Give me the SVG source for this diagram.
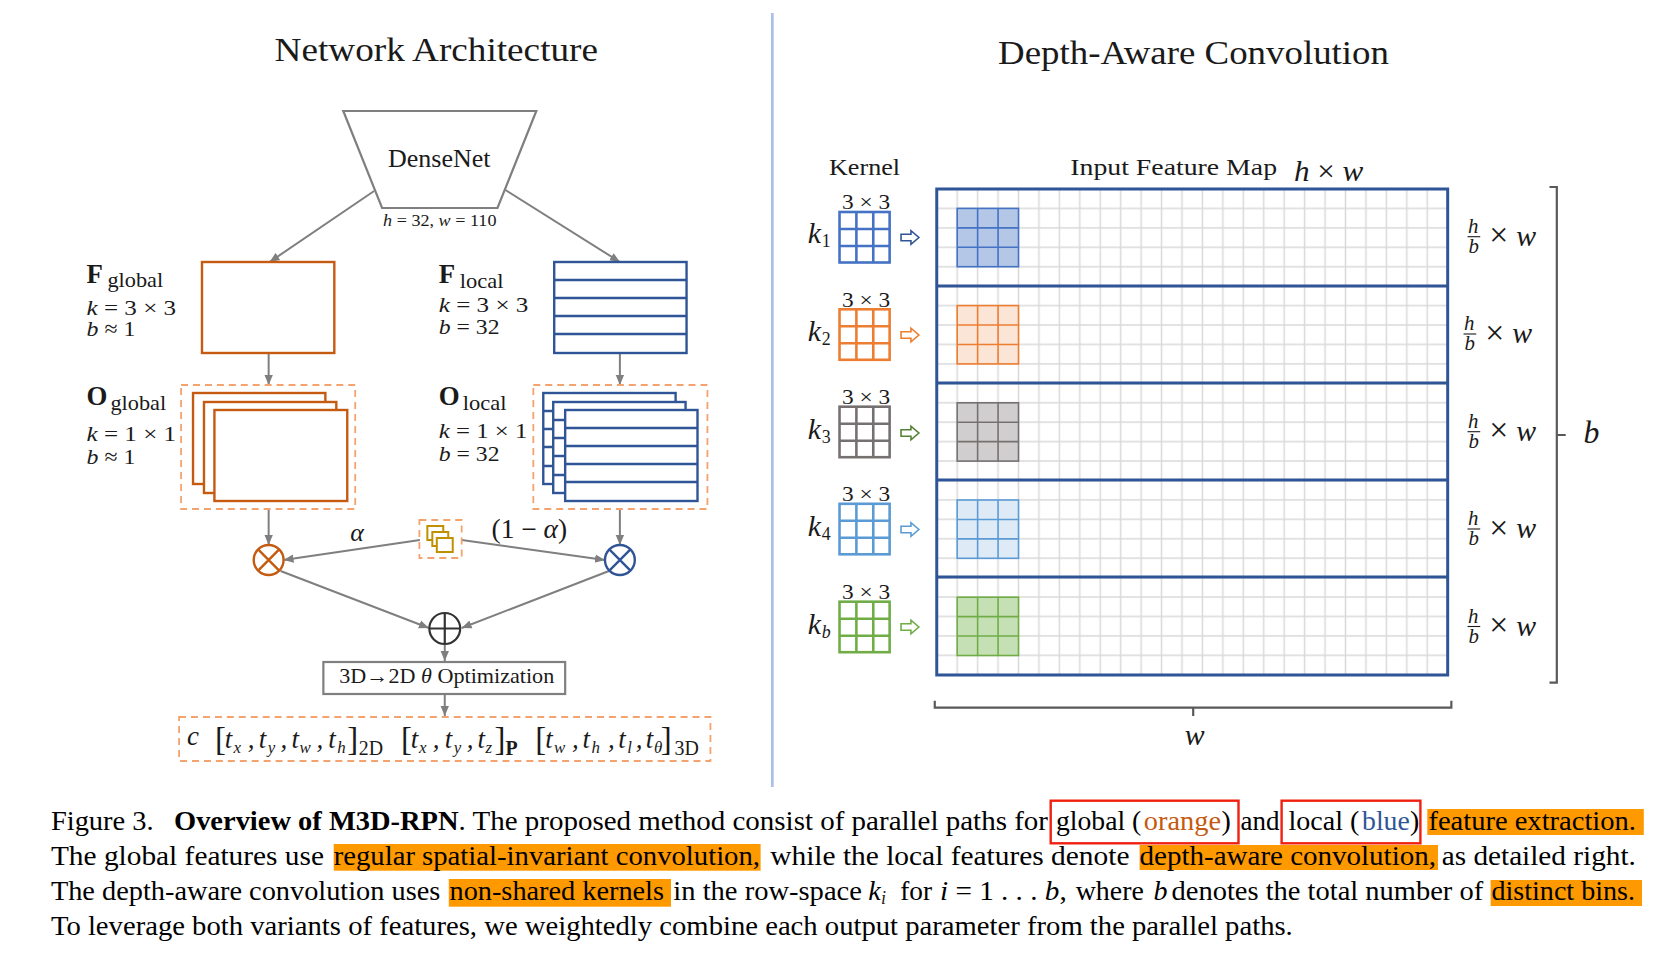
<svg xmlns="http://www.w3.org/2000/svg" width="1664" height="954" viewBox="0 0 1664 954">
<style>
text{font-family:"Liberation Serif","Times New Roman",serif;fill:#1a1a1a}
.i{font-style:italic}
.b{font-weight:bold}
.title{font-size:34px}
.lab{font-size:22px}
.sub{font-size:21px}
.cap{font-size:28px;fill:#000}
.arrow{fill:none;stroke:#7f7f7f;stroke-width:2;marker-end:url(#head)}
.gray{fill:#fff;stroke:#7f7f7f;stroke-width:2.2}
.org{fill:#fff;stroke:#c55a11;stroke-width:2.4}
.blu{fill:#fff;stroke:#2f5597;stroke-width:2.4}
.dash{fill:none;stroke:#f4a26e;stroke-width:1.8;stroke-dasharray:7 5}
.gold{fill:#fff;stroke:#bf9000;stroke-width:2}
.hl{fill:#ff9900}
.red{fill:none;stroke:#f02010;stroke-width:2.4}
.sep{stroke:#2f5597;stroke-width:3;fill:none}
.brk{fill:none;stroke:#595959;stroke-width:2.2}
.kern{fill:#fff;stroke:currentColor;stroke-width:2.6}
.patch{stroke:currentColor;stroke-width:1.6}
.ba{fill:#fff;stroke:currentColor;stroke-width:1.6}
.t{font-size:27px;font-style:italic}
.s{font-size:17px;font-style:italic}
.br{font-size:33px}
.rm{font-size:20px}
</style>
<defs>
<marker id="head" markerUnits="userSpaceOnUse" markerWidth="11" markerHeight="10" refX="10" refY="5" orient="auto"><path d="M0 .8L10 5L0 9.2Z" fill="#7f7f7f"/></marker>
<pattern id="grid" patternUnits="userSpaceOnUse" x="927.7" y="179.3" width="20.6" height="19.43"><path d="M10.3 0V19.43M0 9.715H20.6" fill="none" stroke="#d9d9d9" stroke-width="1.5"/></pattern>
<g id="kernel"><rect class="kern" width="50.5" height="50.5"/><path class="kern" d="M17 0V50.5M34 0V50.5M0 17H50.5M0 34H50.5"/></g>
<g id="patch"><rect class="patch" width="61.8" height="58.3"/><path class="patch" fill="none" d="M20.6 0V58.3M41.2 0V58.3M0 19.43H61.8M0 38.86H61.8"/></g>
<path id="barrow" class="ba" d="M0-3.2H10V-6.8L18 0L10 6.8V3.2H0Z"/>
<g id="frac"><text class="sub i" x="0.500" y="-4">h</text><path d="M0 0H12.800" stroke="#1a1a1a" stroke-width="1.1"/><text class="sub i" x="1" y="16">b</text><text font-size="34" x="22" y="9.500">×</text><text class="i" font-size="30" x="49" y="9">w</text></g>
</defs>
<rect width="1664" height="954" fill="#fff"/>
<rect id="divider" x="771" y="13" width="2.7" height="774" fill="#a9c1e8"/>
<text id="title-left" class="title" x="274.600" y="61" textLength="323.400" lengthAdjust="spacingAndGlyphs">Network Architecture</text>
<text id="title-right" class="title" x="998" y="64" textLength="391" lengthAdjust="spacingAndGlyphs">Depth-Aware Convolution</text>

<g id="network" transform="scale(.995 1)">
<g id="connectors">
<path class="arrow" d="M376 191L271 262"/>
<path class="arrow" d="M508 190L623 262"/>
<path class="arrow" d="M270 353V385"/>
<path class="arrow" d="M623 353V385"/>
<path class="arrow" d="M270 509V545"/>
<path class="arrow" d="M623 509V545"/>
<path class="arrow" d="M422 540L285 560"/>
<path class="arrow" d="M464 540L608 560"/>
<path class="arrow" d="M282 571L431 628"/>
<path class="arrow" d="M612 571L464 628"/>
<path class="arrow" d="M447 644V661"/>
<path class="arrow" d="M447 694V716"/>
</g>

<g id="densenet">
<path class="gray" d="M345 111H539L500 208H384Z"/>
<text x="390" y="167" font-size="25" textLength="103" lengthAdjust="spacingAndGlyphs">DenseNet</text>
<text x="385" y="226" font-size="17" textLength="114" lengthAdjust="spacingAndGlyphs"><tspan class="i">h</tspan> = 32, <tspan class="i">w</tspan> = 110</text>
</g>

<g id="f-global">
<rect class="org" x="203" y="262" width="133" height="91"/>
<text class="b" font-size="27" x="87" y="283">F</text>
<text class="sub" x="108" y="287" textLength="56" lengthAdjust="spacingAndGlyphs">global</text>
<text class="lab" x="87" y="315" textLength="90" lengthAdjust="spacingAndGlyphs"><tspan class="i">k</tspan> = 3 × 3</text>
<text class="lab" x="87" y="336" textLength="49" lengthAdjust="spacingAndGlyphs"><tspan class="i">b</tspan> ≈ 1</text>
</g>

<g id="f-local">
<rect class="blu" x="557" y="262" width="133" height="91"/>
<path class="blu" d="M557 280H690M557 298H690M557 316H690M557 334H690"/>
<text class="b" font-size="27" x="441" y="283">F</text>
<text class="sub" x="462" y="288" textLength="44" lengthAdjust="spacingAndGlyphs">local</text>
<text class="lab" x="441" y="312" textLength="90" lengthAdjust="spacingAndGlyphs"><tspan class="i">k</tspan> = 3 × 3</text>
<text class="lab" x="441" y="334" textLength="61" lengthAdjust="spacingAndGlyphs"><tspan class="i">b</tspan> = 32</text>
</g>

<g id="o-global">
<rect class="dash" x="182" y="385" width="175" height="124"/>
<rect class="org" x="194" y="393" width="133" height="91"/>
<rect class="org" x="205" y="402" width="133" height="91"/>
<rect class="org" x="215.500" y="410" width="133.500" height="91"/>
<text class="b" font-size="27" x="87" y="405">O</text>
<text class="sub" x="111" y="410" textLength="56" lengthAdjust="spacingAndGlyphs">global</text>
<text class="lab" x="87" y="441" textLength="90" lengthAdjust="spacingAndGlyphs"><tspan class="i">k</tspan> = 1 × 1</text>
<text class="lab" x="87" y="464" textLength="49" lengthAdjust="spacingAndGlyphs"><tspan class="i">b</tspan> ≈ 1</text>
</g>

<g id="o-local">
<rect class="dash" x="536" y="385" width="175" height="124"/>
<rect class="blu" x="546" y="393" width="133" height="91"/>
<path class="blu" d="M546 411H556M546 429H556M546 447H556M546 466H556"/>
<rect class="blu" x="556" y="402" width="133" height="91"/>
<path class="blu" d="M556 420H568M556 438H568M556 456H568M556 475H568"/>
<rect class="blu" x="568" y="410" width="133" height="91"/>
<path class="blu" d="M568 428H701M568 446H701M568 464H701M568 482H701"/>
<text class="b" font-size="27" x="441" y="405">O</text>
<text class="sub" x="465" y="410" textLength="44" lengthAdjust="spacingAndGlyphs">local</text>
<text class="lab" x="441" y="438" textLength="89" lengthAdjust="spacingAndGlyphs"><tspan class="i">k</tspan> = 1 × 1</text>
<text class="lab" x="441" y="461" textLength="61" lengthAdjust="spacingAndGlyphs"><tspan class="i">b</tspan> = 32</text>
</g>

<g id="mult-global"><circle class="org" cx="270" cy="560" r="15"/><path class="org" d="M259.400 549.400L280.600 570.600M280.600 549.400L259.400 570.600"/></g>
<g id="mult-local"><circle class="blu" cx="623" cy="560" r="15"/><path class="blu" d="M612.400 549.400L633.600 570.600M633.600 549.400L612.400 570.600"/></g>

<g id="alpha">
<rect class="dash" x="421.500" y="520" width="42.500" height="38"/>
<rect class="gold" x="429.500" y="526" width="16" height="14"/>
<rect class="gold" x="434.500" y="532" width="16" height="14"/>
<rect class="gold" x="439" y="538" width="16" height="14"/>
<text class="i" font-size="26" x="352" y="541">α</text>
<text font-size="27" x="494" y="538" textLength="76" lengthAdjust="spacingAndGlyphs">(1 − <tspan class="i">α</tspan>)</text>
</g>

<g id="add"><circle fill="#fff" stroke="#333" stroke-width="2.2" cx="447" cy="628.500" r="15.500"/><path stroke="#333" stroke-width="2.2" d="M431.500 628.500H462.500M447 613V644"/></g>

<g id="optimization">
<rect class="gray" x="325" y="662" width="243" height="32"/>
<text font-size="22" x="341" y="683" textLength="216" lengthAdjust="spacingAndGlyphs">3D→2D <tspan class="i">θ</tspan> Optimization</text>
</g>

<g id="output">
<rect class="dash" x="180" y="717" width="534" height="44"/>
<text class="t" x="188" y="745">c</text>
<text y="748"><tspan class="br" x="216" y="750">[</tspan><tspan class="t" x="225.800" y="748">t</tspan><tspan class="s" x="234.700" y="753">x</tspan><tspan class="t" x="249" y="748">,</tspan><tspan class="t" x="260">t</tspan><tspan class="s" x="269" y="753">y</tspan><tspan class="t" x="282" y="748">,</tspan><tspan class="t" x="293">t</tspan><tspan class="s" x="301" y="753">w</tspan><tspan class="t" x="318" y="748">,</tspan><tspan class="t" x="330">t</tspan><tspan class="s" x="339" y="753">h</tspan><tspan class="br" x="349" y="750">]</tspan><tspan class="rm" x="360.600" y="755">2D</tspan></text>
<text y="748"><tspan class="br" x="403" y="750">[</tspan><tspan class="t" x="412.800" y="748">t</tspan><tspan class="s" x="421" y="753">x</tspan><tspan class="t" x="435" y="748">,</tspan><tspan class="t" x="447">t</tspan><tspan class="s" x="456" y="753">y</tspan><tspan class="t" x="469" y="748">,</tspan><tspan class="t" x="480">t</tspan><tspan class="s" x="488" y="753">z</tspan><tspan class="br" x="497" y="750">]</tspan><tspan class="rm b" x="508" y="755">P</tspan></text>
<text y="748"><tspan class="br" x="538" y="750">[</tspan><tspan class="t" x="548" y="748">t</tspan><tspan class="s" x="556.700" y="753">w</tspan><tspan class="t" x="575" y="748">,</tspan><tspan class="t" x="585.500">t</tspan><tspan class="s" x="594.500" y="753">h</tspan><tspan class="t" x="611" y="748">,</tspan><tspan class="t" x="621.400">t</tspan><tspan class="s" x="630.400" y="753">l</tspan><tspan class="t" x="639" y="748">,</tspan><tspan class="t" x="649">t</tspan><tspan class="s" x="657.400" y="753">θ</tspan><tspan class="br" x="664" y="750">]</tspan><tspan class="rm" x="678" y="755">3D</tspan></text>
</g>
</g>

<g id="depth-aware" transform="translate(6.16 0) scale(.9921 1)">
<g id="kernel-heading">
<text font-size="24" x="829.400" y="175" textLength="71.600" lengthAdjust="spacingAndGlyphs">Kernel</text>
<text font-size="24" x="1072.600" y="175" textLength="208.400" lengthAdjust="spacingAndGlyphs">Input Feature Map</text>
<text font-size="30" x="1298" y="181" textLength="70" lengthAdjust="spacingAndGlyphs"><tspan class="i">h</tspan> × <tspan class="i">w</tspan></text>
</g>

<g id="feature-map">
<rect x="938" y="189" width="515" height="486" fill="url(#grid)"/>
<g style="color:#4472c4"><use href="#patch" x="958.600" y="208.400" fill="#b4c7e7"/></g>
<g style="color:#ed7d31"><use href="#patch" x="958.600" y="305.600" fill="#fbe5d6"/></g>
<g style="color:#767171"><use href="#patch" x="958.600" y="402.800" fill="#d0cece"/></g>
<g style="color:#5b9bd5"><use href="#patch" x="958.600" y="500" fill="#deebf7"/></g>
<g style="color:#70ad47"><use href="#patch" x="958.600" y="597.200" fill="#c5e0b4"/></g>
<rect class="sep" x="938" y="189" width="515" height="486"/>
<path class="sep" d="M938 286H1453M938 383H1453M938 480H1453M938 577H1453"/>
</g>

<g id="row-1" style="color:#4472c4">
<text font-size="21" x="842.500" y="209" textLength="48.500" lengthAdjust="spacingAndGlyphs">3 × 3</text>
<use href="#kernel" x="840" y="212"/>
<text class="i" font-size="30" x="808" y="243">k</text><text font-size="18" x="822" y="247">1</text>
<use href="#barrow" x="902" y="237.500" style="color:#2f5597"/>
<use href="#frac" x="1473" y="236.700"/>
</g>
<g id="row-2" style="color:#ed7d31">
<text font-size="21" x="842.500" y="307" textLength="48.500" lengthAdjust="spacingAndGlyphs">3 × 3</text>
<use href="#kernel" x="840" y="309.300"/>
<text class="i" font-size="30" x="808" y="341.500">k</text><text font-size="18" x="822" y="345.500">2</text>
<use href="#barrow" x="902" y="335"/>
<use href="#frac" x="1469" y="334"/>
</g>
<g id="row-3" style="color:#767171">
<text font-size="21" x="842.500" y="404" textLength="48.500" lengthAdjust="spacingAndGlyphs">3 × 3</text>
<use href="#kernel" x="840" y="406.700"/>
<text class="i" font-size="30" x="808" y="439.500">k</text><text font-size="18" x="822" y="443.500">3</text>
<use href="#barrow" x="902" y="433" style="color:#548235"/>
<use href="#frac" x="1473" y="431.700"/>
</g>
<g id="row-4" style="color:#5b9bd5">
<text font-size="21" x="842.500" y="501" textLength="48.500" lengthAdjust="spacingAndGlyphs">3 × 3</text>
<use href="#kernel" x="840" y="503.800"/>
<text class="i" font-size="30" x="808" y="536.500">k</text><text font-size="18" x="822" y="540.500">4</text>
<use href="#barrow" x="902" y="529.500"/>
<use href="#frac" x="1473" y="529"/>
</g>
<g id="row-5" style="color:#70ad47">
<text font-size="21" x="842.500" y="599" textLength="48.500" lengthAdjust="spacingAndGlyphs">3 × 3</text>
<use href="#kernel" x="840" y="601.700"/>
<text class="i" font-size="30" x="808" y="634">k</text><text class="i" font-size="18" x="822" y="638">b</text>
<use href="#barrow" x="902" y="627"/>
<use href="#frac" x="1473" y="626.500"/>
</g>

<g id="brackets">
<path class="brk" d="M1555.600 187H1563V682.700H1555.600M1563 435H1572"/>
<text class="i" font-size="32" x="1590" y="443.500">b</text>
<path class="brk" d="M936 700.700V707.700H1456.700V700.700M1196.500 707.700V716"/>
<text class="i" font-size="30" x="1188" y="745">w</text>
</g>
</g>

<g id="caption">
<rect class="hl" x="1427.300" y="809" width="216.500" height="26"/>
<rect class="hl" x="333.700" y="844" width="426.900" height="26.700"/>
<rect class="hl" x="1139.600" y="845" width="298.400" height="25"/>
<rect class="hl" x="448.800" y="879" width="222.200" height="27.700"/>
<rect class="hl" x="1490.600" y="880" width="151.400" height="26"/>
<rect class="red" x="1050.700" y="800.700" width="187.800" height="42.600"/>
<rect class="red" x="1281.600" y="800.700" width="138.800" height="42.600"/>

<text class="cap" x="50.900" y="830" textLength="102.800" lengthAdjust="spacingAndGlyphs">Figure 3.</text>
<text class="cap b" x="174" y="830" textLength="284.500" lengthAdjust="spacingAndGlyphs">Overview of M3D-RPN</text>
<text class="cap" x="458.500" y="830" textLength="589.500" lengthAdjust="spacingAndGlyphs">. The proposed method consist of parallel paths for</text>
<text class="cap" x="1056" y="830" textLength="85.200" lengthAdjust="spacingAndGlyphs">global (</text>
<text class="cap" x="1143.800" y="830" textLength="77.200" lengthAdjust="spacingAndGlyphs" style="fill:#c55a11">orange</text>
<text class="cap" x="1221.500" y="830">)</text>
<text class="cap" x="1240.600" y="830" textLength="38.900" lengthAdjust="spacingAndGlyphs">and</text>
<text class="cap" x="1288.500" y="830" textLength="70.800" lengthAdjust="spacingAndGlyphs">local (</text>
<text class="cap" x="1362" y="830" textLength="47.800" lengthAdjust="spacingAndGlyphs" style="fill:#2f5597">blue</text>
<text class="cap" x="1410" y="830">)</text>
<text class="cap" x="1428.400" y="830" textLength="207.500" lengthAdjust="spacingAndGlyphs">feature extraction.</text>

<text class="cap" x="50.900" y="865" textLength="273.100" lengthAdjust="spacingAndGlyphs">The global features use</text>
<text class="cap" x="333.700" y="865" textLength="426.300" lengthAdjust="spacingAndGlyphs">regular spatial-invariant convolution,</text>
<text class="cap" x="770.200" y="865" textLength="359.300" lengthAdjust="spacingAndGlyphs">while the local features denote</text>
<text class="cap" x="1139.600" y="865" textLength="296.400" lengthAdjust="spacingAndGlyphs">depth-aware convolution,</text>
<text class="cap" x="1441.700" y="865" textLength="194.200" lengthAdjust="spacingAndGlyphs">as detailed right.</text>

<text class="cap" x="50.900" y="900" textLength="389.400" lengthAdjust="spacingAndGlyphs">The depth-aware convolution uses</text>
<text class="cap" x="449.500" y="900" textLength="214.500" lengthAdjust="spacingAndGlyphs">non-shared kernels</text>
<text class="cap" x="673.300" y="900" textLength="188.600" lengthAdjust="spacingAndGlyphs">in the row-space</text>
<text class="cap i" x="868.300" y="900">k</text><text class="i" font-size="18" x="881" y="904">i</text>
<text class="cap" x="900.200" y="900" textLength="31.800" lengthAdjust="spacingAndGlyphs">for</text>
<text class="cap" x="940" y="900" textLength="126.700" lengthAdjust="spacingAndGlyphs"><tspan class="i">i</tspan> = 1 . . . <tspan class="i">b</tspan>,</text>
<text class="cap" x="1075.700" y="900" textLength="68.100" lengthAdjust="spacingAndGlyphs">where</text>
<text class="cap i" x="1153.400" y="900">b</text>
<text class="cap" x="1171.500" y="900" textLength="311.700" lengthAdjust="spacingAndGlyphs">denotes the total number of</text>
<text class="cap" x="1491.500" y="900" textLength="143.500" lengthAdjust="spacingAndGlyphs">distinct bins.</text>

<text class="cap" x="50.900" y="935" textLength="1241.900" lengthAdjust="spacingAndGlyphs">To leverage both variants of features, we weightedly combine each output parameter from the parallel paths.</text>
</g>
</svg>
